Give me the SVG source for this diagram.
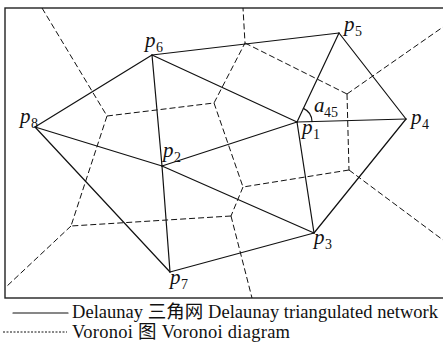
<svg xmlns="http://www.w3.org/2000/svg" width="443" height="342" viewBox="0 0 443 342">
<style>
.frame{fill:none;stroke:#222;stroke-width:1.4}
.del{stroke:#111;stroke-width:1.2;fill:none;stroke-linecap:round}
.vor{stroke:#111;stroke-width:1;fill:none;stroke-dasharray:6 3}
.lbl{font-family:"Liberation Serif","Times New Roman",serif;font-style:italic;font-size:21px;fill:#111}
.sub{font-family:"Liberation Serif","Times New Roman",serif;font-size:14px;fill:#111}
.leg{font-family:"Liberation Serif","Noto Sans CJK SC",serif;font-size:18.5px;fill:#111}
</style>
<rect class="frame" x="5" y="8" width="445" height="290"/>
<g id="connectors">
<g id="delaunay">
<line class="del" x1="35" y1="127" x2="152" y2="55"/>
<line class="del" x1="152" y1="55" x2="339" y2="33"/>
<line class="del" x1="339" y1="33" x2="406" y2="119"/>
<line class="del" x1="406" y1="119" x2="314" y2="233"/>
<line class="del" x1="314" y1="233" x2="170" y2="272"/>
<line class="del" x1="170" y1="272" x2="35" y2="127"/>
<line class="del" x1="152" y1="55" x2="162" y2="166"/>
<line class="del" x1="162" y1="166" x2="170" y2="272"/>
<line class="del" x1="35" y1="127" x2="162" y2="166"/>
<line class="del" x1="162" y1="166" x2="314" y2="233"/>
<line class="del" x1="162" y1="166" x2="297" y2="122"/>
<line class="del" x1="152" y1="55" x2="297" y2="122"/>
<line class="del" x1="297" y1="122" x2="339" y2="33"/>
<line class="del" x1="297" y1="122" x2="406" y2="119"/>
<line class="del" x1="297" y1="122" x2="314" y2="233"/>
<path class="del" d="M303.4 108.4 A15 15 0 0 1 312 121.6"/>
</g>
<g id="voronoi">
<polyline class="vor" points="42,8 107,116 214,103 245,43 243,8"/>
<line class="vor" x1="107" y1="116" x2="71" y2="226"/>
<line class="vor" x1="214" y1="103" x2="243" y2="187"/>
<line class="vor" x1="245" y1="43" x2="347" y2="94"/>
<line class="vor" x1="347" y1="94" x2="443" y2="27"/>
<line class="vor" x1="347" y1="94" x2="349" y2="170"/>
<line class="vor" x1="349" y1="170" x2="243" y2="187"/>
<line class="vor" x1="349" y1="170" x2="443" y2="240"/>
<line class="vor" x1="243" y1="187" x2="231" y2="216"/>
<line class="vor" x1="231" y1="216" x2="71" y2="226"/>
<line class="vor" x1="231" y1="216" x2="252" y2="298"/>
<line class="vor" x1="71" y1="226" x2="6" y2="287"/>
</g>
</g>
<g id="p1"><text class="lbl" x="302" y="134">p</text><text class="sub" x="313" y="139">1</text></g>
<g id="p2"><text class="lbl" x="163" y="157">p</text><text class="sub" x="174" y="162">2</text></g>
<g id="p3"><text class="lbl" x="314" y="244">p</text><text class="sub" x="325" y="249">3</text></g>
<g id="p4"><text class="lbl" x="411" y="124">p</text><text class="sub" x="422" y="129">4</text></g>
<g id="p5"><text class="lbl" x="344" y="31">p</text><text class="sub" x="355" y="36">5</text></g>
<g id="p6"><text class="lbl" x="145" y="47">p</text><text class="sub" x="156" y="52">6</text></g>
<g id="p7"><text class="lbl" x="170" y="284">p</text><text class="sub" x="181" y="289">7</text></g>
<g id="p8"><text class="lbl" x="20" y="123">p</text><text class="sub" x="31" y="128">8</text></g>
<g id="a45"><text class="lbl" x="314" y="112">a</text><text class="sub" x="324" y="117">45</text></g>
<g id="legend">
<line class="del" x1="13" y1="313" x2="68" y2="313"/>
<text class="leg" x="72" y="318" textLength="366">Delaunay 三角网 Delaunay triangulated network</text>
<line x1="3" y1="332" x2="67" y2="332" stroke="#111" stroke-width="1" stroke-dasharray="2 1.5"/>
<text class="leg" x="72" y="338" textLength="218">Voronoi 图 Voronoi diagram</text>
</g>
</svg>
